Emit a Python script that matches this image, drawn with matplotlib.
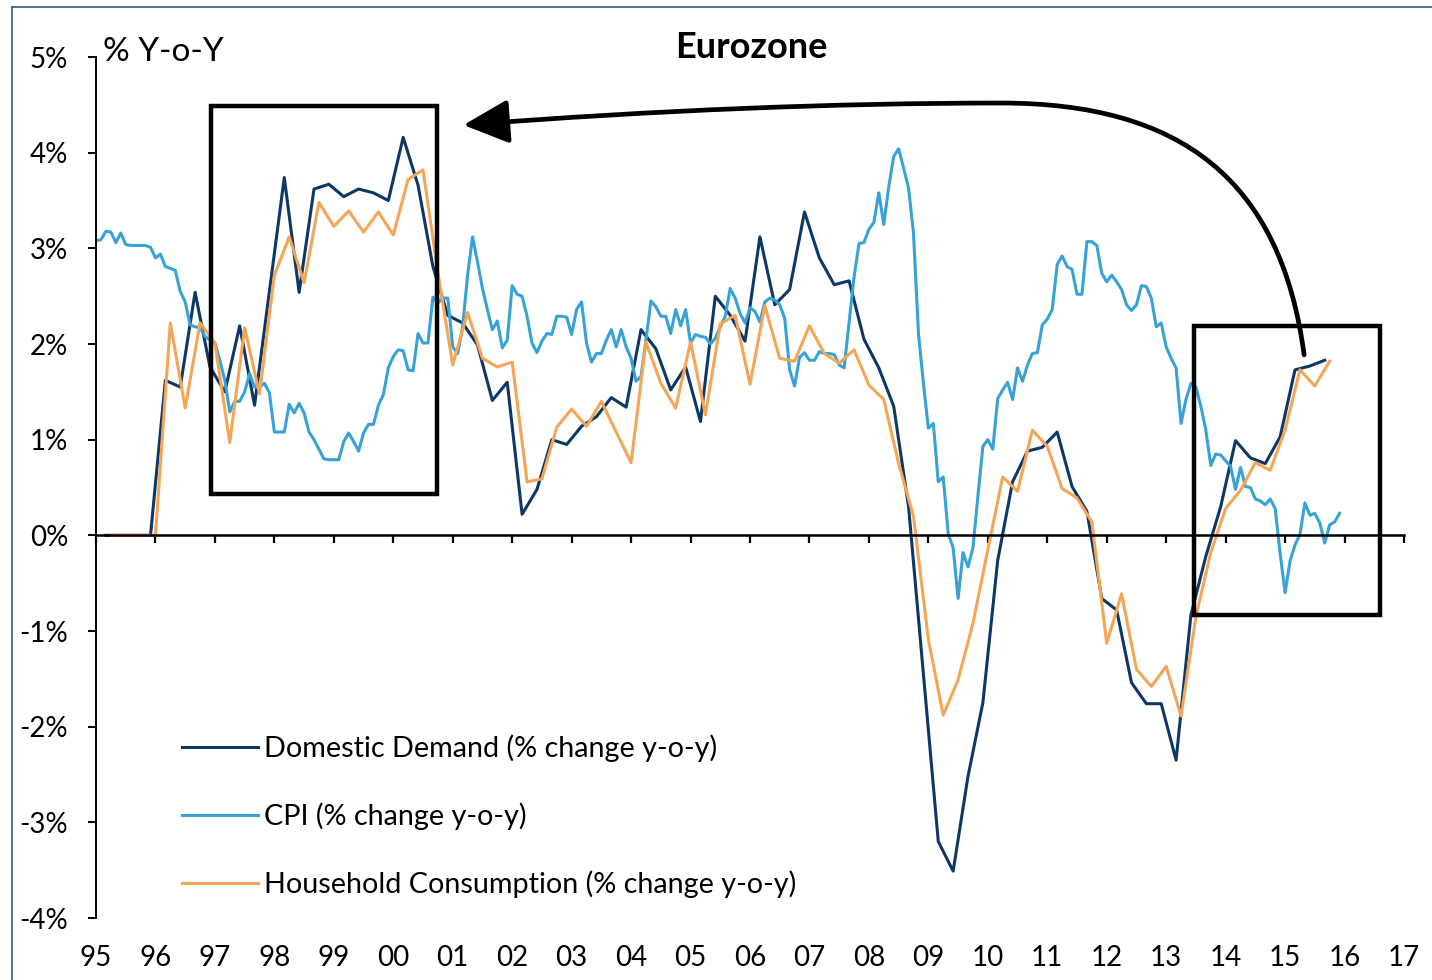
import matplotlib
matplotlib.use("Agg")
import matplotlib.pyplot as plt
from matplotlib.path import Path
from matplotlib.patches import FancyArrowPatch, Rectangle
from matplotlib.lines import Line2D
import numpy as np

plt.rcParams['font.family'] = ['Lato', 'DejaVu Sans']

# Domestic demand, quarterly, first point Mar 1995 (plotted mid-quarter)
domestic_demand = [
    0, 0, 0, 0,
    1.62, 1.55, 2.54, 1.76,
    1.50, 2.19, 1.36, 2.55,
    3.74, 2.54, 3.62, 3.67,
    3.54, 3.62, 3.58, 3.50,
    4.16, 3.66, 2.81, 2.30,
    2.22, 1.99, 1.41, 1.60,
    0.22, 0.48, 1.00, 0.95,
    1.14, 1.24, 1.44, 1.34,
    2.15, 1.95, 1.52, 1.76,
    1.19, 2.50, 2.30, 2.03,
    3.12, 2.41, 2.57, 3.38,
    2.90, 2.62, 2.66, 2.05,
    1.75, 1.35, 0.30, -1.45,
    -3.20, -3.51, -2.52, -1.75,
    -0.26, 0.56, 0.88, 0.92,
    1.08, 0.51, 0.25, -0.66,
    -0.78, -1.54, -1.76, -1.76,
    -2.35, -0.83, -0.22, 0.30,
    0.99, 0.81, 0.75, 1.03,
    1.73, 1.77, 1.83,
]

# Household consumption, quarterly, first point 1995.25
household = [
    0, 0, 0,
    0, 2.22, 1.33, 2.22,
    2.01, 0.97, 2.17, 1.48,
    2.72, 3.12, 2.64, 3.48,
    3.23, 3.39, 3.17, 3.38,
    3.14, 3.72, 3.82, 2.75,
    1.78, 2.33, 1.85, 1.76,
    1.81, 0.56, 0.59, 1.13,
    1.32, 1.14, 1.40, 1.08,
    0.76, 2.02, 1.59, 1.33,
    2.02, 1.26, 2.21, 2.30,
    1.58, 2.40, 1.85, 1.82,
    2.19, 1.90, 1.80, 1.94,
    1.57, 1.42, 0.75, 0.20,
    -1.09, -1.88, -1.51, -0.92,
    -0.15, 0.61, 0.46, 1.10,
    0.93, 0.49, 0.39, 0.14,
    -1.13, -0.61, -1.40, -1.58,
    -1.37, -1.89, -0.85, -0.18,
    0.28, 0.47, 0.76, 0.68,
    1.10, 1.73, 1.56, 1.82,
]

# CPI, monthly Jan 1995 - Dec 2015
cpi = [
    3.08, 3.09, 3.18, 3.17, 3.06, 3.16, 3.04, 3.03, 3.03, 3.03, 3.03, 3.01,
    2.90, 2.94, 2.81, 2.79, 2.77, 2.55, 2.44, 2.20, 2.18, 2.17, 2.08, 2.04,
    2.01, 1.83, 1.62, 1.29, 1.40, 1.40, 1.50, 1.69, 1.55, 1.55, 1.59, 1.49,
    1.08, 1.08, 1.08, 1.37, 1.28, 1.38, 1.28, 1.08, 1.00, 0.90, 0.80, 0.79,
    0.79, 0.79, 0.98, 1.07, 0.98, 0.88, 1.07, 1.16, 1.16, 1.36, 1.47, 1.75,
    1.87, 1.94, 1.93, 1.73, 1.72, 2.11, 2.01, 2.01, 2.49, 2.43, 2.48, 2.48,
    1.97, 1.90, 2.18, 2.72, 3.12, 2.86, 2.58, 2.36, 2.15, 2.24, 1.96, 2.04,
    2.61, 2.52, 2.50, 2.29, 2.01, 1.91, 2.03, 2.11, 2.10, 2.29, 2.29, 2.28,
    2.10, 2.36, 2.44, 2.01, 1.81, 1.90, 1.90, 2.04, 2.15, 1.97, 2.15, 1.97,
    1.85, 1.61, 1.66, 2.04, 2.45, 2.39, 2.29, 2.29, 2.11, 2.36, 2.19, 2.36,
    2.01, 2.10, 2.08, 2.07, 2.00, 2.06, 2.18, 2.29, 2.58, 2.48, 2.32, 2.22,
    2.38, 2.34, 2.23, 2.44, 2.48, 2.46, 2.41, 2.27, 1.73, 1.56, 1.86, 1.91,
    1.83, 1.83, 1.92, 1.90, 1.90, 1.89, 1.78, 1.75, 2.22, 2.70, 3.05, 3.06,
    3.20, 3.27, 3.58, 3.25, 3.64, 3.96, 4.04, 3.84, 3.63, 3.16, 2.11, 1.59,
    1.12, 1.17, 0.56, 0.61, 0.02, -0.13, -0.66, -0.18, -0.33, -0.13, 0.41, 0.93,
    1.00, 0.90, 1.43, 1.52, 1.60, 1.42, 1.75, 1.61, 1.78, 1.90, 1.91, 2.20,
    2.26, 2.36, 2.83, 2.92, 2.81, 2.78, 2.52, 2.52, 3.07, 3.07, 3.03, 2.74,
    2.65, 2.72, 2.65, 2.57, 2.41, 2.35, 2.41, 2.61, 2.60, 2.48, 2.18, 2.22,
    1.97, 1.85, 1.75, 1.17, 1.42, 1.59, 1.55, 1.35, 1.10, 0.73, 0.85, 0.84,
    0.78, 0.72, 0.48, 0.71, 0.51, 0.50, 0.38, 0.36, 0.32, 0.38, 0.28, -0.19,
    -0.60, -0.27, -0.10, 0.01, 0.34, 0.21, 0.23, 0.13, -0.08, 0.11, 0.14, 0.23,
]

years = list(range(1995, 2018))
year_labels = [f"{y % 100:02d}" for y in years]
y_ticks = list(range(-4, 6))
y_labels = [f"{v}%" for v in y_ticks]

series_names = ['Domestic Demand (% change y-o-y)', 'CPI (% change y-o-y)',
                'Household Consumption (% change y-o-y)']
colors = ['#0c3766', '#38a2d6', '#f5a556']

# time axes
dd_x = 1995 + (2 + 3 * np.arange(len(domestic_demand))) / 12
hh_x = 1995 + (3 + 3 * np.arange(len(household))) / 12
cpi_x = 1995 + np.arange(len(cpi)) / 12

fig = plt.figure(figsize=(14.32, 9.8), dpi=100)
ax = fig.add_axes([96 / 1432, 62 / 980, 1308 / 1432, 861 / 980])

ax.plot(dd_x, domestic_demand, color=colors[0], lw=2.2, label=series_names[0])
ax.plot(cpi_x, cpi, color=colors[1], lw=2.2, label=series_names[1])
ax.plot(hh_x, household, color=colors[2], lw=2.2, label=series_names[2])

ax.set_xlim(1995, 2017)
ax.set_ylim(-4, 5)

ax.spines['top'].set_visible(False)
ax.spines['right'].set_visible(False)
ax.spines['bottom'].set_position(('data', 0))
ax.spines['bottom'].set_linewidth(1.8)
ax.spines['left'].set_linewidth(1.4)

ax.set_xticks(years)
ax.tick_params(axis='x', direction='out', length=6, width=1.6, labelbottom=False)
ax.set_yticks(y_ticks)
ax.set_yticklabels(y_labels)
ax.tick_params(axis='y', direction='out', length=6, width=1.4, pad=14, labelsize=20)

sec = ax.secondary_xaxis(0)
sec.set_xticks(years)
sec.set_xticklabels(year_labels)
sec.tick_params(length=0, pad=19.5, labelsize=20)
sec.spines['bottom'].set_visible(False)

# annotation boxes
for (x0, y0, x1, y1) in [(1996.94, 0.43, 2000.74, 4.49), (2013.47, -0.83, 2016.60, 2.19)]:
    ax.add_patch(Rectangle((x0, y0), x1 - x0, y1 - y0, fill=False,
                           edgecolor='black', lw=3.2, zorder=5))

# curved arrow from right box to left box
verts = [(2015.32, 1.886), (2014.93, 3.715), (2013.25, 4.519), (2010.22, 4.519),
         (2006.01, 4.519), (2001.18, 4.289)]
codes = [Path.MOVETO, Path.CURVE4, Path.CURVE4, Path.CURVE4, Path.CURVE3, Path.CURVE3]
arrow = FancyArrowPatch(path=Path(verts, codes),
                        arrowstyle='-|>,head_length=2.8,head_width=1.35',
                        mutation_scale=10, lw=3.4, color='black', zorder=6)
ax.add_patch(arrow)

leg = ax.legend(loc='upper left', bbox_to_anchor=(182 / 1432, 1 - 734 / 980),
                bbox_transform=fig.transFigure, frameon=False, fontsize=20.7,
                handlelength=2.65, handletextpad=0.2, labelspacing=1.42,
                borderpad=0, borderaxespad=0)
for line in leg.get_lines():
    line.set_linewidth(2.2)

fig.text(751 / 1432, 1 - 47 / 980, 'Eurozone', ha='center', va='center',
         fontsize=26, fontweight='bold')
fig.text(103 / 1432, 1 - 52 / 980, '% Y-o-Y', ha='left', va='center', fontsize=24)

# outer frame
fig.add_artist(Line2D([11.5 / 1432, 11.5 / 1432], [0, 1 - 7 / 980],
                      transform=fig.transFigure, color='#2f5a8c', lw=1.2))
fig.add_artist(Line2D([11.5 / 1432, 1], [1 - 7 / 980, 1 - 7 / 980],
                      transform=fig.transFigure, color='#2f5a8c', lw=1.2))

fig.savefig('out.png', dpi=100)
